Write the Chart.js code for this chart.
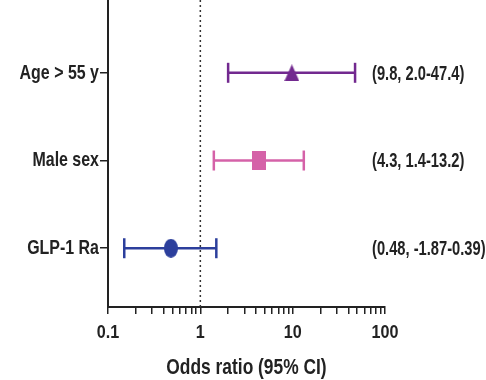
<!DOCTYPE html>
<html>
<head>
<meta charset="utf-8">
<script src="https://cdn.jsdelivr.net/npm/chart.js@4/dist/chart.umd.min.js"></script>
<style>
    body { margin: 0; background: #fff; }
</style>
</head>
<body>
<canvas id="forest" width="486" height="380"></canvas>
<script>
// -- Data --
const rowLabels = ['Age > 55 y', 'Male sex', 'GLP-1 Ra'];
const rowPos = [3, 2, 1];
const oddsRatio = [9.8, 4.3, 0.48];
const ciLow = [2.0, 1.4, 0.15];
const ciHigh = [47.4, 13.2, 1.49];
const ciText = ['(9.8, 2.0-47.4)', '(4.3, 1.4-13.2)', '(0.48, -1.87-0.39)'];
const xTicks = [0.1, 0.2, 0.3, 0.4, 0.5, 0.6, 0.7, 0.8, 0.9,
                1, 2, 3, 4, 5, 6, 7, 8, 9,
                10, 20, 30, 40, 50, 60, 70, 80, 90, 100];
const xTickLabels = { 0.1: '0.1', 1: '1', 10: '10', 100: '100' };
const refLine = 1;

const rowColors = ['#72298f', '#d562a8', '#2c3f9c'];
const rowShapes = ['triangle', 'rect', 'ellipse'];
const FONT = '"Liberation Sans", Arial, sans-serif';
const yMin = 0.33, yMax = 3.83;

// the original text is a condensed Helvetica: squeeze factor per font size
const squeezeBySize = { 21: 0.76, 19: 0.85, 22: 0.79 };

// Make a small canvas used as the point marker (markers are a bit taller than wide)
function makeMarker(shape, color, w, h) {
    const c = document.createElement('canvas');
    c.width = w;
    c.height = h;
    const ctx = c.getContext('2d');
    ctx.fillStyle = color;
    ctx.beginPath();
    if (shape === 'triangle') {
        ctx.moveTo(w / 2, 0);
        ctx.lineTo(w, h);
        ctx.lineTo(0, h);
        ctx.closePath();
    } else if (shape === 'rect') {
        ctx.rect(0, 0, w, h);
    } else {
        ctx.ellipse(w / 2, h / 2, w / 2, h / 2, 0, 0, Math.PI * 2);
    }
    ctx.fill();
    return c;
}

const markerSizes = { triangle: [15, 17], rect: [14, 19], ellipse: [14, 19] };

const datasets = [];

// reference line at OR = 1
datasets.push({
    type: 'line',
    data: [{ x: refLine, y: yMin }, { x: refLine, y: yMax }],
    borderColor: '#333',
    borderWidth: 1.5,
    borderDash: [2, 3],
    pointRadius: 0
});

rowLabels.forEach((label, i) => {
    // CI bar with caps
    datasets.push({
        type: 'line',
        label: label + ' CI',
        data: [{ x: ciLow[i], y: rowPos[i] }, { x: ciHigh[i], y: rowPos[i] }],
        borderColor: rowColors[i],
        borderWidth: 2.5,
        pointStyle: 'line',
        pointRotation: 90,
        pointRadius: 10,
        pointBorderWidth: 2.5,
        pointBorderColor: rowColors[i],
        clip: false
    });
    const sz = markerSizes[rowShapes[i]];
    datasets.push({
        type: 'scatter',
        label: label,
        data: [{ x: oddsRatio[i], y: rowPos[i] }],
        pointStyle: makeMarker(rowShapes[i], rowColors[i], sz[0], sz[1]),
        pointRadius: 9,
        clip: false
    });
});

// draws the "(OR, CI)" text on the right
const ciTextPlugin = {
    id: 'ciText',
    afterDatasetsDraw(chart) {
        const ctx = chart.ctx;
        const yScale = chart.scales.y;
        ctx.save();
        ctx.font = 'bold 21px ' + FONT;
        ctx.fillStyle = '#222';
        ctx.textBaseline = 'middle';
        ctx.textAlign = 'left';
        ctx._squeeze = 0.70;
        ciText.forEach((t, i) => {
            ctx.fillText(t, chart.chartArea.right - 13, yScale.getPixelForValue(rowPos[i]) + 1);
        });
        ctx._squeeze = null;
        ctx.restore();
    }
};

// squeeze all text horizontally around its anchor point
const canvas = document.getElementById('forest');
const context = canvas.getContext('2d');
const origFillText = context.fillText;
context.fillText = function (text, x, y, maxWidth) {
    const m = /(\d+)px/.exec(this.font);
    const s = this._squeeze || (m && squeezeBySize[m[1]]) || 1;
    this.save();
    this.translate(x, y);
    this.scale(s, 1);
    if (maxWidth === undefined)
        origFillText.call(this, text, 0, 0);
    else
        origFillText.call(this, text, 0, 0, maxWidth / s);
    this.restore();
};

new Chart(context, {
    data: { datasets: datasets },
    plugins: [ciTextPlugin],
    options: {
        responsive: false,
        animation: false,
        layout: {
            autoPadding: false,
            padding: { top: 0, right: 101, left: 0, bottom: 0 }
        },
        plugins: {
            legend: { display: false },
            tooltip: { enabled: false }
        },
        scales: {
            x: {
                type: 'logarithmic',
                min: 0.1,
                max: 100,
                afterBuildTicks: (scale) => {
                    scale.ticks = xTicks.map(v => ({ value: v }));
                },
                afterFit: (scale) => { scale.height = 73; },
                border: { display: true, color: '#222', width: 2 },
                grid: {
                    drawOnChartArea: false,
                    color: '#222',
                    lineWidth: 1.5,
                    tickLength: 7
                },
                ticks: {
                    autoSkip: false,
                    maxRotation: 0,
                    padding: 7,
                    color: '#222',
                    font: { family: FONT, size: 19, weight: 'bold' },
                    callback: (v) => xTickLabels[v] || ''
                },
                title: {
                    display: true,
                    text: 'Odds ratio (95% CI)',
                    color: '#222',
                    padding: { top: 0, bottom: 0 },
                    font: { family: FONT, size: 22, weight: 'bold', lineHeight: 1.1 }
                }
            },
            y: {
                type: 'linear',
                min: yMin,
                max: yMax,
                afterBuildTicks: (scale) => {
                    scale.ticks = rowPos.map(v => ({ value: v }));
                },
                afterFit: (scale) => {
                    scale.width = 108;
                    scale.paddingTop = 0;
                    scale.paddingBottom = 0;
                },
                border: { display: true, color: '#222', width: 2 },
                grid: {
                    drawOnChartArea: false,
                    color: '#222',
                    lineWidth: 1.5,
                    tickLength: 8
                },
                ticks: {
                    padding: 1,
                    color: '#222',
                    font: { family: FONT, size: 21, weight: 'bold' },
                    callback: (v) => rowLabels[rowPos.indexOf(v)]
                }
            }
        }
    }
});
</script>
</body>
</html>
